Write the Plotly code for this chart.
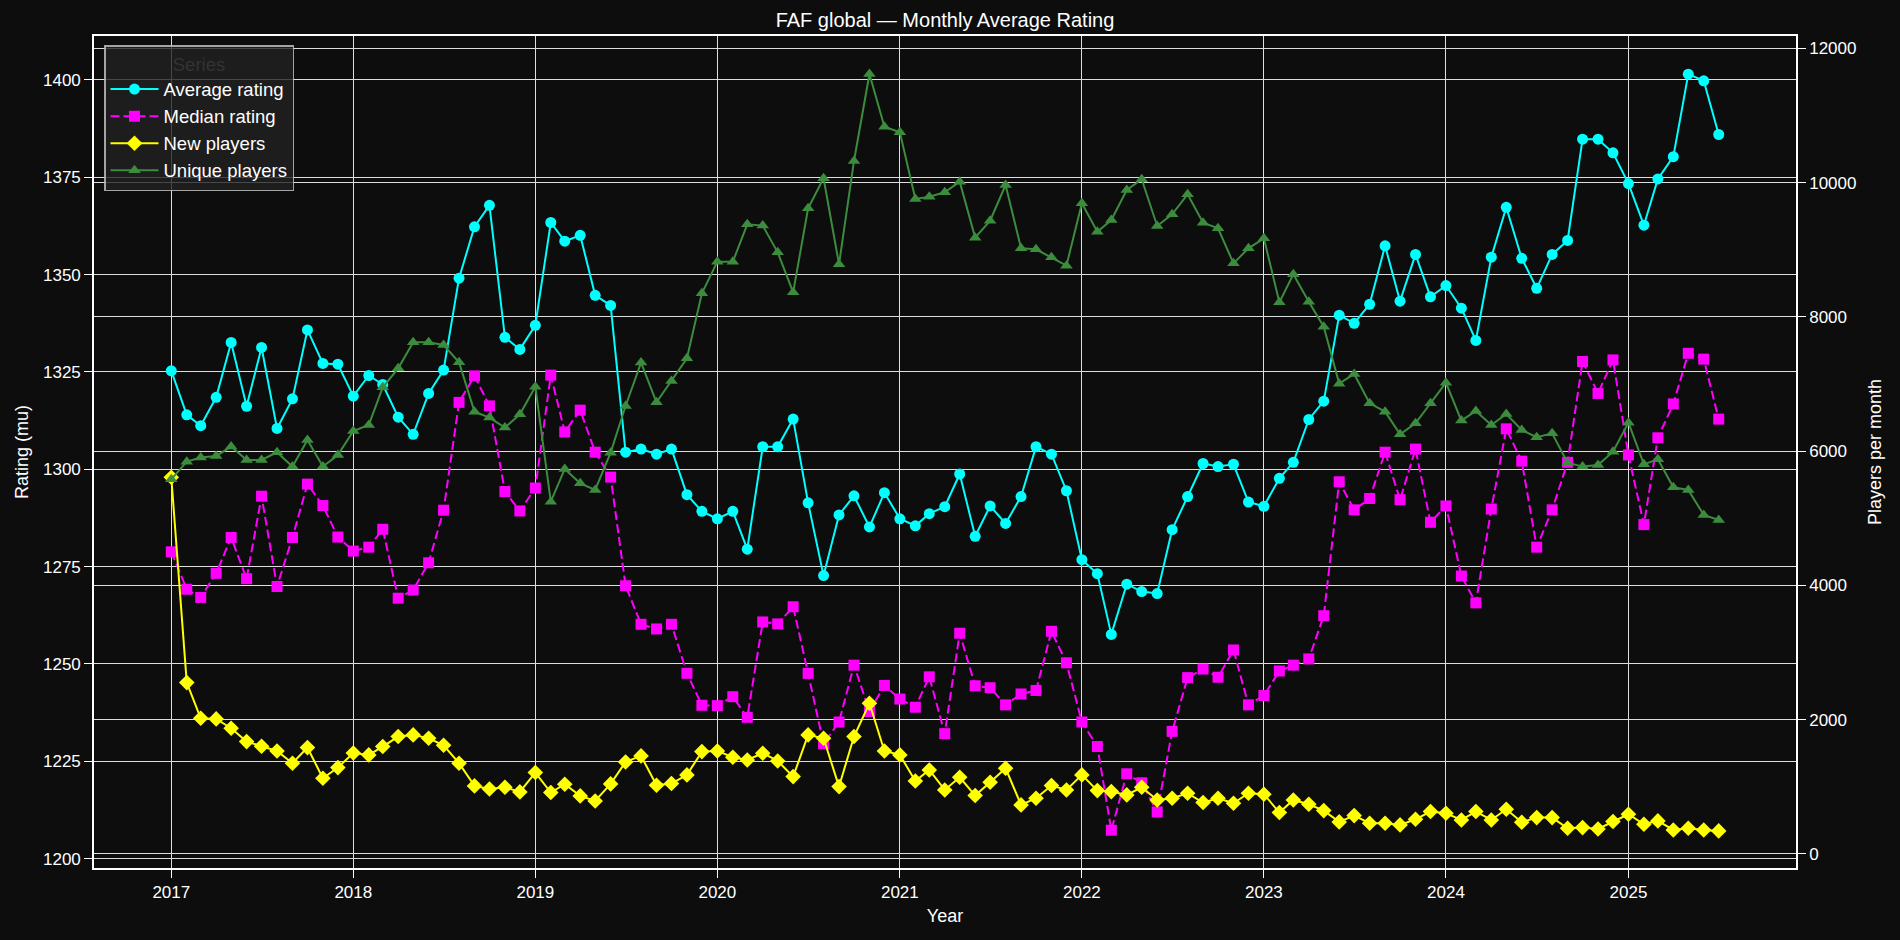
import pandas as pd
import plotly.graph_objects as go

# ---------------- data (monthly, Jan 2017 .. Jul 2025) ----------------
months = pd.date_range("2017-01-01", periods=103, freq="MS")

avg_rating = [
    1325.3, 1314.0, 1311.2, 1318.5, 1332.6, 1316.2, 1331.3, 1310.5, 1318.1, 1335.8, 1327.2, 1327.0,
    1318.8, 1324.1, 1321.8, 1313.4, 1309.0, 1319.5, 1325.5, 1349.1, 1362.3, 1367.8, 1333.9, 1330.8,
    1337.0, 1363.4, 1358.6, 1360.1, 1344.7, 1342.1, 1304.4, 1305.2, 1303.9, 1305.2, 1293.5, 1289.2,
    1287.3, 1289.2, 1279.5, 1305.8, 1305.8, 1312.9, 1291.4, 1272.7, 1288.3, 1293.2, 1285.2, 1294.0,
    1287.3, 1285.5, 1288.6, 1290.4, 1298.8, 1282.8, 1290.6, 1286.1, 1293.0, 1305.8, 1303.9, 1294.5,
    1276.8, 1273.2, 1257.6, 1270.5, 1268.6, 1268.1, 1284.5, 1293.0, 1301.5, 1300.7, 1301.3, 1291.6,
    1290.5, 1297.7, 1301.8, 1312.8, 1317.5, 1339.6, 1337.5, 1342.4, 1357.4, 1343.2, 1355.2, 1344.3,
    1347.2, 1341.4, 1333.1, 1354.5, 1367.3, 1354.2, 1346.5, 1355.2, 1358.8, 1384.8, 1384.8, 1381.3,
    1373.4, 1362.7, 1374.6, 1380.3, 1401.5, 1399.8, 1386.0,
]

median_rating = [
    1278.8, 1269.2, 1267.1, 1273.3, 1282.5, 1271.9, 1293.1, 1269.9, 1282.5, 1296.2, 1290.7, 1282.6,
    1279.0, 1280.0, 1284.6, 1266.9, 1269.0, 1276.0, 1289.5, 1317.2, 1324.0, 1316.3, 1294.3, 1289.3,
    1295.2, 1324.2, 1309.6, 1315.2, 1304.4, 1298.0, 1270.1, 1260.2, 1259.0, 1260.2, 1247.6, 1239.4,
    1239.3, 1241.6, 1236.3, 1260.8, 1260.3, 1264.7, 1247.6, 1229.5, 1235.1, 1249.7, 1237.8, 1244.5,
    1241.0, 1238.9, 1246.7, 1232.1, 1257.9, 1244.4, 1243.9, 1239.5, 1242.3, 1243.2, 1258.4, 1250.3,
    1235.1, 1228.8, 1207.3, 1221.8, 1219.5, 1212.0, 1232.7, 1246.5, 1248.7, 1246.6, 1253.6, 1239.5,
    1241.9, 1248.2, 1249.7, 1251.3, 1262.4, 1296.8, 1289.6, 1292.5, 1304.4, 1292.2, 1305.2, 1286.4,
    1290.6, 1272.6, 1265.7, 1289.8, 1310.4, 1302.1, 1280.0, 1289.6, 1301.8, 1327.7, 1319.5, 1328.1,
    1303.7, 1285.8, 1308.1, 1316.8, 1329.8, 1328.3, 1312.9,
]

new_players = [
    5611, 2552, 2021, 2011, 1872, 1673, 1604, 1534, 1351, 1584, 1127, 1286,
    1504, 1475, 1599, 1748, 1773, 1723, 1619, 1351, 1013, 968, 993, 924,
    1212, 914, 1038, 864, 789, 1043, 1370, 1460, 1023, 1048, 1177, 1524,
    1534, 1440, 1400, 1500, 1385, 1152, 1773, 1723, 1003, 1748, 2244, 1534,
    1475, 1087, 1251, 953, 1142, 869, 1068, 1276, 730, 829, 1018, 953,
    1177, 943, 928, 879, 993, 804, 829, 904, 765, 829, 755, 904,
    889, 616, 804, 740, 645, 477, 571, 457, 457, 432, 516, 631,
    606, 506, 631, 506, 665, 472, 541, 541, 382, 392, 372, 482,
    591, 442, 492, 357, 382, 357, 343,
]

unique_players = [
    5581, 5844, 5904, 5929, 6068, 5869, 5869, 5983, 5770, 6167, 5770, 5943,
    6301, 6390, 6951, 7234, 7622, 7622, 7582, 7324, 6589, 6500, 6351, 6549,
    6961, 5248, 5735, 5521, 5422, 5978, 6673, 7319, 6728, 7046, 7383, 8352,
    8823, 8823, 9379, 9360, 8962, 8366, 9618, 10065, 8784, 10323, 11619, 10834,
    10750, 9757, 9791, 9856, 10015, 9181, 9434, 9965, 9022, 9007, 8888, 8764,
    9692, 9270, 9444, 9891, 10050, 9355, 9528, 9826, 9404, 9320, 8798, 9022,
    9171, 8217, 8635, 8227, 7855, 7006, 7150, 6713, 6589, 6251, 6415, 6713,
    7021, 6455, 6599, 6390, 6554, 6316, 6207, 6266, 5829, 5770, 5794, 5993,
    6425, 5804, 5879, 5462, 5422, 5050, 4975,
]

year_ticks = list(range(2017, 2026))
rating_ticks = list(range(1200, 1401, 25))
player_ticks = list(range(0, 12001, 2000))

# ---------------- style ----------------
BG = "#0d0d0d"
GRID = "#dedede"
FONT = "Liberation Sans, Arial, sans-serif"

fig = go.Figure()
fig.add_trace(go.Scatter(
    x=months, y=avg_rating, name="Average rating", mode="lines+markers", yaxis="y",
    line=dict(color="#00ffff", width=2),
    marker=dict(symbol="circle", size=11, color="#00ffff"),
))
fig.add_trace(go.Scatter(
    x=months, y=median_rating, name="Median rating", mode="lines+markers", yaxis="y",
    line=dict(color="#ff00ff", width=2, dash="9px,4px"),
    marker=dict(symbol="square", size=11, color="#ff00ff"),
))
fig.add_trace(go.Scatter(
    x=months, y=new_players, name="New players", mode="lines+markers", yaxis="y2",
    line=dict(color="#ffff00", width=2),
    marker=dict(symbol="diamond", size=12, color="#ffff00"),
))
fig.add_trace(go.Scatter(
    x=months, y=unique_players, name="Unique players", mode="lines+markers", yaxis="y2",
    line=dict(color="#3c8c3e", width=2),
    marker=dict(symbol="triangle-up", size=11, color="#3c8c3e"),
))

fig.update_layout(
    width=1900, height=940, autosize=False,
    paper_bgcolor=BG, plot_bgcolor=BG,
    font=dict(family=FONT, color="white", size=17),
    margin=dict(l=94, r=104, t=36, b=72, pad=0),
    title=dict(text="FAF global — Monthly Average Rating", x=0.5, xref="paper", xanchor="center",
               y=1 - 20 / 940, yref="container", yanchor="middle",
               font=dict(size=20, color="white", family=FONT)),
    xaxis=dict(
        type="date", range=["2016-07-30", "2025-12-03"],
        tickvals=[f"{y}-01-01" for y in year_ticks], ticktext=[str(y) for y in year_ticks],
        showgrid=True, gridcolor=GRID, gridwidth=1.3,
        showline=True, linecolor="white", linewidth=1.6, mirror=True,
        ticks="outside", ticklen=8, tickwidth=1.3, tickcolor="white",
        tickfont=dict(size=17, color="white"),
        title=dict(text="Year", font=dict(size=18, color="white"), standoff=8),
        zeroline=False,
    ),
    yaxis=dict(
        range=[1197.6, 1411.3], tickvals=rating_ticks,
        showgrid=True, gridcolor=GRID, gridwidth=1.3,
        showline=True, linecolor="white", linewidth=1.6,
        ticks="outside", ticklen=8, tickwidth=1.3, tickcolor="white",
        tickfont=dict(size=17, color="white"),
        title=dict(text="Rating (mu)", font=dict(size=18, color="white"), standoff=10),
        zeroline=False,
    ),
    yaxis2=dict(
        overlaying="y", side="right", anchor="x",
        range=[-210, 12185], tickvals=player_ticks, tickformat="d",
        showgrid=True, gridcolor=GRID, gridwidth=1.3,
        showline=True, linecolor="white", linewidth=1.6,
        ticks="outside", ticklen=8, tickwidth=1.3, tickcolor="white",
        tickfont=dict(size=17, color="white"),
        title=dict(text="Players per month", font=dict(size=18, color="white"), standoff=13),
        zeroline=False,
    ),
    legend=dict(
        x=(104 - 94) / 1702, y=(868 - 45) / 832, xanchor="left", yanchor="top",
        bgcolor="rgba(34,34,34,0.8)", bordercolor="rgba(190,190,190,0.85)", borderwidth=1.5,
        font=dict(size=18.5, color="white", family=FONT),
        title=dict(text="Series", side="top center", font=dict(size=18.5, color="#333333")),
        itemwidth=48, tracegroupgap=0,
    ),
    showlegend=True,
)

fig.write_html("out.html")
